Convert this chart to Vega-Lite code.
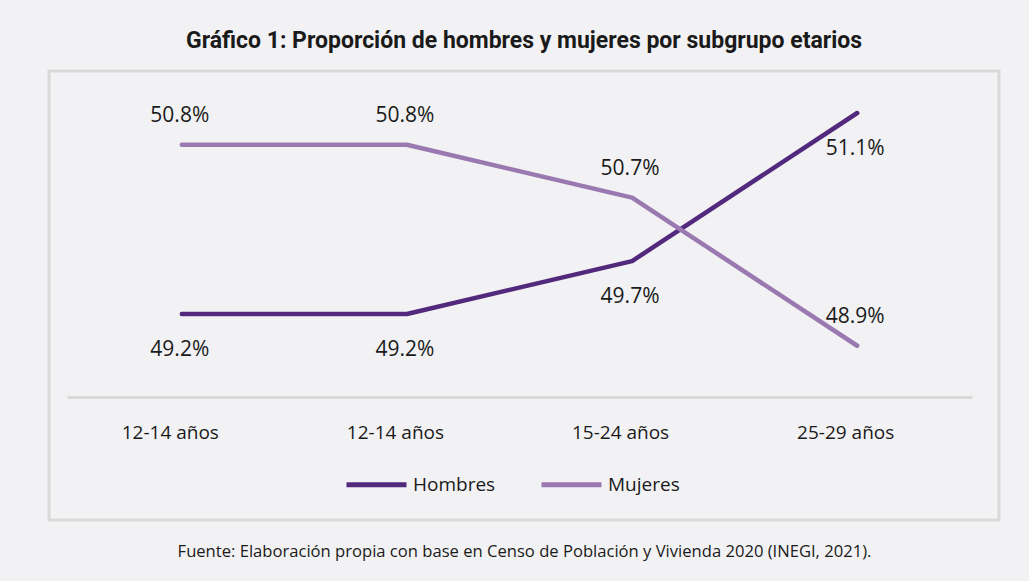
{
  "$schema": "https://vega.github.io/schema/vega-lite/v6.json",
  "width": 950,
  "height": 449,
  "autosize": {"type": "none"},
  "padding": {"left": 49, "top": 71, "right": 30, "bottom": 61},
  "background": "#f2f2f4",
  "config": {
    "view": {"stroke": "#d9d9d9", "strokeWidth": 3, "fill": "#f2f2f4"},
    "font": "Open Sans"
  },
  "title": {
    "text": "Gráfico 1: Proporción de hombres y mujeres por subgrupo etarios",
    "font": "Roboto",
    "fontSize": 23,
    "fontWeight": "bold",
    "color": "#1a1a1a",
    "offset": 18,
    "anchor": "middle"
  },
  "data": {
    "values": [
      {"grupo": "1|12-14 años", "serie": "Hombres", "valor": 49.2, "etiqueta": "49.2%"},
      {"grupo": "2|12-14 años", "serie": "Hombres", "valor": 49.2, "etiqueta": "49.2%"},
      {"grupo": "3|15-24 años", "serie": "Hombres", "valor": 49.7, "etiqueta": "49.7%"},
      {"grupo": "4|25-29 años", "serie": "Hombres", "valor": 51.1, "etiqueta": "51.1%"},
      {"grupo": "1|12-14 años", "serie": "Mujeres", "valor": 50.8, "etiqueta": "50.8%"},
      {"grupo": "2|12-14 años", "serie": "Mujeres", "valor": 50.8, "etiqueta": "50.8%"},
      {"grupo": "3|15-24 años", "serie": "Mujeres", "valor": 50.3, "etiqueta": "50.7%"},
      {"grupo": "4|25-29 años", "serie": "Mujeres", "valor": 48.9, "etiqueta": "48.9%"}
    ]
  },
  "encoding": {
    "x": {
      "field": "grupo",
      "type": "ordinal",
      "scale": {"type": "point", "range": [18, 923], "padding": 0.51},
      "axis": {
        "orient": "bottom",
        "offset": -123,
        "labelAngle": 0,
        "labelExpr": "split(datum.value, '|')[1]",
        "labelFontSize": 19,
        "labelColor": "#1a1a1a",
        "labelPadding": 26,
        "labelOffset": -12,
        "ticks": false,
        "grid": false,
        "domainColor": "#d9d9d9",
        "domainWidth": 3,
        "title": "Fuente: Elaboración propia con base en Censo de Población y Vivienda 2020 (INEGI, 2021).",
        "titleFontSize": 16.6,
        "titleFontWeight": "normal",
        "titleColor": "#1a1a1a",
        "titleX": 475,
        "titleY": 154,
        "titleBaseline": "middle",
        "titleAlign": "center"
      }
    },
    "y": {
      "field": "valor",
      "type": "quantitative",
      "scale": {"domain": [47.253, 51.497], "zero": false, "nice": false},
      "axis": null
    }
  },
  "layer": [
    {
      "mark": {"type": "line", "strokeWidth": 4.5, "strokeCap": "round", "strokeJoin": "round"},
      "encoding": {
        "stroke": {
          "field": "serie",
          "type": "nominal",
          "scale": {"domain": ["Hombres", "Mujeres"], "range": ["#53297d", "#9a78b0"]},
          "legend": {
            "orient": "none",
            "legendX": 295,
            "legendY": 381,
            "direction": "horizontal",
            "title": null,
            "symbolType": "stroke",
            "symbolSize": 3600,
            "symbolStrokeWidth": 5,
            "labelFontSize": 19,
            "labelOffset": 4,
            "labelColor": "#1a1a1a",
            "columnPadding": 35
          }
        }
      }
    },
    {
      "transform": [{"filter": "datum.serie === 'Hombres'"}],
      "mark": {"type": "text", "dy": 36, "dx": -2, "fontSize": 21, "color": "#1a1a1a"},
      "encoding": {"text": {"field": "etiqueta", "type": "nominal"}}
    },
    {
      "transform": [{"filter": "datum.serie === 'Mujeres'"}],
      "mark": {"type": "text", "dy": -29, "dx": -2, "fontSize": 21, "color": "#1a1a1a"},
      "encoding": {"text": {"field": "etiqueta", "type": "nominal"}}
    }
  ]
}
